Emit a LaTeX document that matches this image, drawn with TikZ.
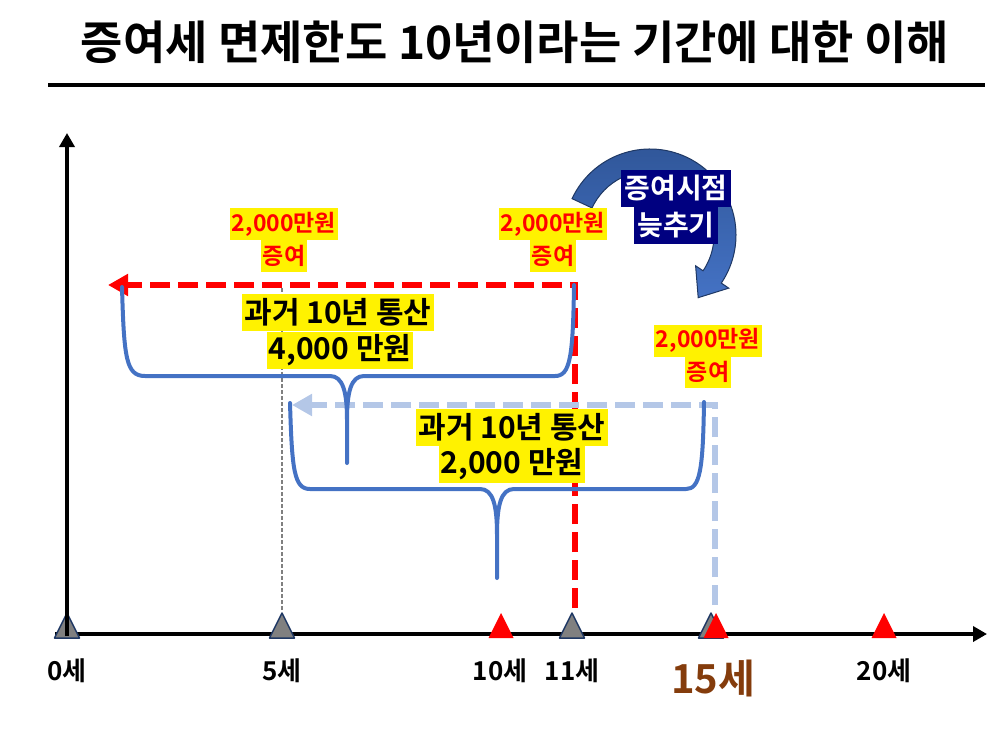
\documentclass[tikz,border=0pt]{standalone}
\usepackage{fontspec}
\setmainfont{Noto Sans CJK KR}[BoldFont={* Bold}]
\usetikzlibrary{arrows.meta,calc}

\definecolor{bracebl}{RGB}{68,114,196}
\definecolor{paleblue}{RGB}{180,199,231}
\definecolor{agebrown}{RGB}{132,60,12}
\definecolor{trigray}{RGB}{128,128,128}
\definecolor{tririm}{RGB}{31,56,100}
\definecolor{arrowdk}{RGB}{47,85,151}
\definecolor{boxnavy}{RGB}{0,0,128}

\begin{document}
\begin{tikzpicture}[x=1pt, y=-1pt, every node/.style={font=\bfseries, inner sep=0pt},
	gift/.style={fill=yellow, text=red, font=\fontsize{23}{23}\selectfont\bfseries, inner xsep=2pt, minimum height=32pt},
	total/.style={fill=yellow, font=\fontsize{30}{30}\selectfont\bfseries, inner xsep=2pt, minimum height=37pt},
	latebox/.style={fill=boxnavy, text=white, font=\fontsize{28}{28}\selectfont\bfseries, inner xsep=3pt, minimum height=37pt},
	age/.style={font=\fontsize{26}{26}\selectfont\bfseries},
	brace/.style={bracebl, line width=4pt, line cap=round, line join=round},
	tgray/.style={fill=trigray, draw=tririm, line width=1.5pt, line join=round},
	tred/.style={fill=red},
	reddash/.style={red, line width=6pt, dash pattern=on 20pt off 8pt, -{Triangle[length=20pt,width=21pt]}},
	bluedash/.style={paleblue, line width=6pt, dash pattern=on 20pt off 8pt, -{Triangle[length=20pt,width=21pt]}},
	axis/.style={line width=4pt, -{Triangle[length=14pt,width=15pt]}}]
	\useasboundingbox (0,0) rectangle (1003,729);

	% title and rule
	\node[font=\fontsize{46}{46}\selectfont\bfseries] (title) at (515,42) {증여세 면제한도 10년이라는 기간에 대한 이해};
	\coordinate (rulel) at (48,85);
	\coordinate (ruler) at (985,85);
	\draw[line width=4pt] (rulel) -- (ruler);

	% axes and age marks
	\coordinate (orig) at (67,636);
	\coordinate (xstart) at (55,634);
	\coordinate (xend) at (987,634);
	\coordinate (ytop) at (67,133);
	\draw[axis] (xstart) -- (xend);
	\foreach \x/\s in {67/tgray, 282/tgray, 501/tred, 572/tgray, 711/tgray, 716/tred, 884/tred}
		\path[\s] (\x-12.5,638) -- (\x+12.5,638) -- (\x,613) -- cycle;
	\draw[axis] (orig) -- (ytop);
	\foreach \x/\n in {67/0, 282/5, 500/10, 572/11, 884/20}
		\node[age] (a\n) at (\x,671) {{\n}세};
	\node[age, text=agebrown, font=\fontsize{40}{40}\selectfont\bfseries] (a15) at (713,678) {15세};

	% gift lines
	\coordinate (m5top) at (282,288);
	\coordinate (m5bot) at (282,612);
	\draw[gray, line width=1.2pt, dash pattern=on 4pt off 2pt] (m5top) -- (m5bot);
	\coordinate (g11) at (575,608);
	\coordinate (g1end) at (108,285);
	\draw[reddash] (g11) |- (g1end);
	\coordinate (g15) at (715,605);
	\coordinate (g5end) at (292,405);
	\draw[bluedash] (g15) |- (g5end);

	% braces
	\draw[brace] (122,287) .. controls (124,358) and (126,376) .. (145,376) -- (330,376)
		.. controls (343,376) and (347,392) .. (347,420) -- (347,463) -- (347,420)
		.. controls (347,392) and (351,376) .. (364,376) -- (555,376)
		.. controls (570,376) and (573,358) .. (574,285);
	\draw[brace] (290,403) .. controls (292,470) and (294,489) .. (310,489) -- (480,489)
		.. controls (493,489) and (497,505) .. (497,535) -- (497,578) -- (497,535)
		.. controls (497,505) and (501,489) .. (514,489) -- (686,489)
		.. controls (700,489) and (703,470) .. (704,402);

	% curved arrow
	\coordinate (bend) at (650,235);
	\path[draw=tririm, line width=1pt, top color=arrowdk, bottom color=bracebl]
		($(bend)+(205:86)$) arc[start angle=205, end angle=394, radius=86]
		-- ($(bend)+(394:95)$) -- ($(bend)+(394:75)+(484:25)$) -- ($(bend)+(394:55)$)
		-- ($(bend)+(394:64)$) arc[start angle=394, end angle=205, radius=64] -- cycle;

	% labels
	\node[gift] (g0a) at (284,224) {2,000만원};
	\node[gift] (g0b) at (284,255.5) {증여};
	\node[gift] (g11a) at (553,224) {2,000만원};
	\node[gift] (g11b) at (553,255.5) {증여};
	\node[gift] (g15a) at (708,340.5) {2,000만원};
	\node[gift] (g15b) at (708,372) {증여};
	\node[total] (s1a) at (338,312.5) {과거 10년 통산};
	\node[total] (s1b) at (340,350) {4,000 만원};
	\node[total] (s2a) at (512,427.5) {과거 10년 통산};
	\node[total] (s2b) at (512,464.5) {2,000 만원};
	\node[latebox] (d1) at (676,188.5) {증여시점};
	\node[latebox] (d2) at (676,225.5) {늦추기};
\end{tikzpicture}
\end{document}
